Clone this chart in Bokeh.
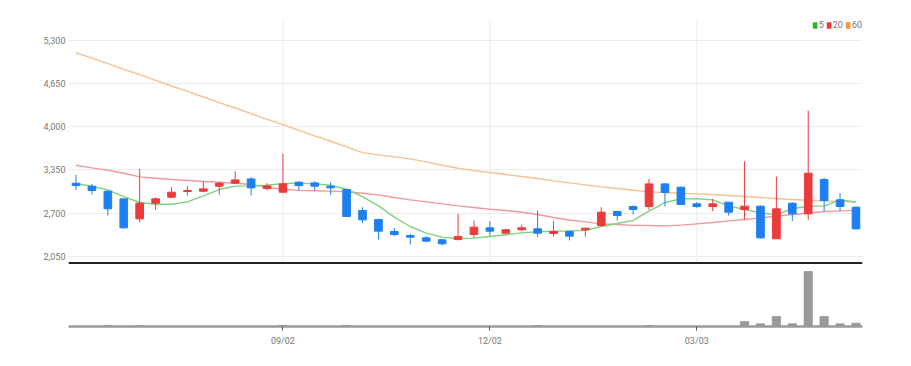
from bokeh.plotting import figure
from bokeh.models import (Range1d, FixedTicker, Span, Legend, LegendItem,
                          ColumnDataSource, NumeralTickFormatter)
from bokeh.embed import file_html
from bokeh.resources import INLINE

# ---- data (weekly candles) ----
week = list(range(50))
opens = [3150, 3105, 3030, 2915, 2615, 2850, 2940, 3025, 3030, 3105,
         3150, 3215, 3070, 3015, 3165, 3155, 3105, 3055, 2740, 2605,
         2425, 2365, 2330, 2300, 2305, 2380, 2480, 2400, 2450, 2465,
         2395, 2425, 2450, 2515, 2725, 2800, 2800, 3140, 3090, 2840,
         2800, 2865, 2755, 2805, 2315, 2850, 2690, 3205, 2900, 2790]
highs = [3275, 3140, 3040, 2915, 3365, 2940, 3090, 3105, 3180, 3165,
         3330, 3240, 3150, 3590, 3180, 3180, 3165, 3065, 2790, 2615,
         2480, 2390, 2355, 2315, 2690, 2590, 2580, 2465, 2530, 2740,
         2585, 2430, 2480, 2790, 2740, 2815, 3215, 3150, 3100, 2865,
         2915, 2865, 3480, 2815, 3250, 2865, 4240, 3230, 3000, 2800]
lows = [3050, 2980, 2665, 2465, 2565, 2750, 2930, 2965, 3015, 2980,
        3140, 2965, 3040, 3000, 3040, 3040, 2975, 2640, 2550, 2305,
        2355, 2230, 2265, 2215, 2290, 2330, 2365, 2380, 2430, 2340,
        2350, 2290, 2350, 2500, 2590, 2680, 2750, 2800, 2830, 2780,
        2730, 2665, 2600, 2315, 2315, 2580, 2600, 2730, 2730, 2450]
closes = [3115, 3040, 2765, 2480, 2850, 2915, 3015, 3040, 3065, 3150,
          3200, 3080, 3110, 3140, 3115, 3105, 3080, 2650, 2600, 2430,
          2380, 2340, 2280, 2240, 2350, 2490, 2430, 2450, 2480, 2400,
          2425, 2355, 2475, 2715, 2665, 2755, 3140, 3010, 2830, 2800,
          2840, 2715, 2805, 2330, 2765, 2690, 3300, 2890, 2800, 2465]
volumes = [3, 3, 25, 3, 25, 3, 3, 3, 3, 3,
           3, 3, 3, 25, 3, 3, 3, 25, 3, 3,
           3, 3, 3, 3, 3, 3, 3, 3, 3, 22,
           3, 3, 3, 3, 3, 3, 22, 3, 3, 3,
           3, 3, 109, 59, 218, 59, 1200, 218, 59, 72]
ma5 = [3145, 3105, 3050, 2950, 2860, 2835, 2835, 2870, 2960, 3055,
       3107, 3110, 3120, 3145, 3152, 3140, 3120, 3060, 2950, 2810,
       2640, 2500, 2400, 2340, 2315, 2325, 2350, 2375, 2405, 2420,
       2428, 2435, 2442, 2500, 2545, 2592, 2730, 2860, 2915, 2917,
       2900, 2810, 2755, 2705, 2675, 2770, 2800, 2810, 2900, 2870]
ma20 = [3420, 3380, 3345, 3300, 3245, 3225, 3205, 3190, 3175, 3165,
        3150, 3130, 3090, 3060, 3042, 3037, 3032, 3022, 3000, 2975,
        2935, 2900, 2870, 2840, 2810, 2785, 2760, 2740, 2715, 2680,
        2635, 2598, 2570, 2540, 2530, 2517, 2515, 2510, 2520, 2540,
        2560, 2585, 2605, 2630, 2655, 2680, 2700, 2725, 2735, 2742]
ma60 = [5110, 5030, 4945, 4860, 4780, 4695, 4610, 4530, 4445, 4360,
        4280, 4195, 4110, 4030, 3945, 3860, 3780, 3695, 3610, 3575,
        3545, 3515, 3470, 3420, 3375, 3340, 3310, 3280, 3250, 3220,
        3185, 3155, 3125, 3095, 3070, 3045, 3020, 3010, 3000, 2990,
        2980, 2965, 2950, 2935, 2920, 2905, 2895, 2885, 2875, 2865]
tick_idx = [13, 26, 39]
tick_labels = ["09/02", "12/02", "03/03"]
price_ticks = [2050, 2700, 3350, 4000, 4650, 5300]
ma_labels = ["5", "20", "60"]

# ---- styles ----
UP = "#ec3b3b"
DOWN = "#1e80f0"
FONT = "Roboto"
PANEL_FLOOR = 1950     # price level of the dark separator line
VOL_MAX = 6677
NAN = float("nan")

colors = [UP if c >= o else DOWN for o, c in zip(opens, closes)]
src = ColumnDataSource(dict(x=week, o=opens, h=highs, l=lows, c=closes,
                            top=[max(a, b) for a, b in zip(opens, closes)],
                            bot=[min(a, b) for a, b in zip(opens, closes)],
                            col=colors, v=volumes))

p = figure(frame_width=794, frame_height=306, min_border_left=68,
           min_border_right=26, min_border_top=20, min_border_bottom=30,
           x_range=Range1d(-0.471, 49.41), y_range=Range1d(998, 5594),
           output_backend="svg", toolbar_location=None,
           background_fill_color="white", border_fill_color="white")
p.outline_line_color = None
p.extra_y_ranges = {"vol": Range1d(0, VOL_MAX)}

# grids
p.xgrid.visible = False
p.ygrid.ticker = FixedTicker(ticks=price_ticks)
p.ygrid.grid_line_color = "#ececec"
p.segment(x0=tick_idx, x1=tick_idx, y0=[PANEL_FLOOR] * len(tick_idx),
          y1=[5594] * len(tick_idx), line_color="#ececec", line_width=1)

# axes
p.yaxis.ticker = FixedTicker(ticks=price_ticks)
p.yaxis.formatter = NumeralTickFormatter(format="0,0")
p.yaxis.axis_line_color = None
p.yaxis.major_tick_line_color = None
p.yaxis.minor_tick_line_color = None
p.yaxis.major_tick_out = 0
p.yaxis.major_tick_in = 0
p.yaxis.major_label_standoff = 3
p.yaxis.major_label_text_font = FONT
p.yaxis.major_label_text_font_size = "9px"
p.yaxis.major_label_text_color = "#777777"

p.xaxis.ticker = FixedTicker(ticks=tick_idx)
p.xaxis.major_label_overrides = {t: s for t, s in zip(tick_idx, tick_labels)}
p.xaxis.axis_line_color = "#9a9a9a"
p.xaxis.axis_line_width = 2.5
p.xaxis.major_tick_out = 4
p.xaxis.major_tick_in = 0
p.xaxis.major_tick_line_color = "#555555"
p.xaxis.minor_tick_line_color = None
p.xaxis.major_label_standoff = 5
p.xaxis.major_label_text_font = FONT
p.xaxis.major_label_text_font_size = "9px"
p.xaxis.major_label_text_color = "#777777"

# volume
p.vbar(x="x", top="v", bottom=0, width=0.52, source=src, y_range_name="vol",
       fill_color="#9a9a9a", line_color="#8a8a8a", line_width=0.6)

# separator between price and volume panels
p.add_layout(Span(location=PANEL_FLOOR, dimension="width",
                  line_color="#222222", line_width=2))

# moving averages
p.line(week, ma60, line_color="#f8c091", line_width=1.4)
p.line(week, ma20, line_color="#f29a9a", line_width=1.4)
p.line(week, ma5, line_color="#7fd27f", line_width=1.4)

# candles
p.segment(x0="x", x1="x", y0="l", y1="h", line_color="col", line_width=1,
          source=src)
p.vbar(x="x", top="top", bottom="bot", width=0.48, fill_color="col",
       line_color="col", line_width=1, source=src)

# legend with small squares (one undrawn NaN row so the legend has a glyph)
leg_cols = ["#2db82d", "#ec3b3b", "#f59a3a"]
items = []
for lab, col in zip(ma_labels, leg_cols):
    r = p.quad(source=ColumnDataSource(dict(left=[NAN], right=[NAN],
                                            top=[NAN], bottom=[NAN])),
               left="left", right="right", top="top", bottom="bottom",
               fill_color=col, line_color=None)
    items.append(LegendItem(label=lab, renderers=[r], index=0))
legend = Legend(items=items, orientation="horizontal", location="top_right",
                margin=0, padding=0, spacing=2, label_standoff=1,
                glyph_width=6, glyph_height=8, label_width=0, label_height=0,
                label_text_font=FONT, label_text_font_size="9px",
                label_text_color="#777777", background_fill_alpha=0,
                border_line_alpha=0)
p.add_layout(legend)

open("out.html", "w").write(file_html(p, INLINE))
